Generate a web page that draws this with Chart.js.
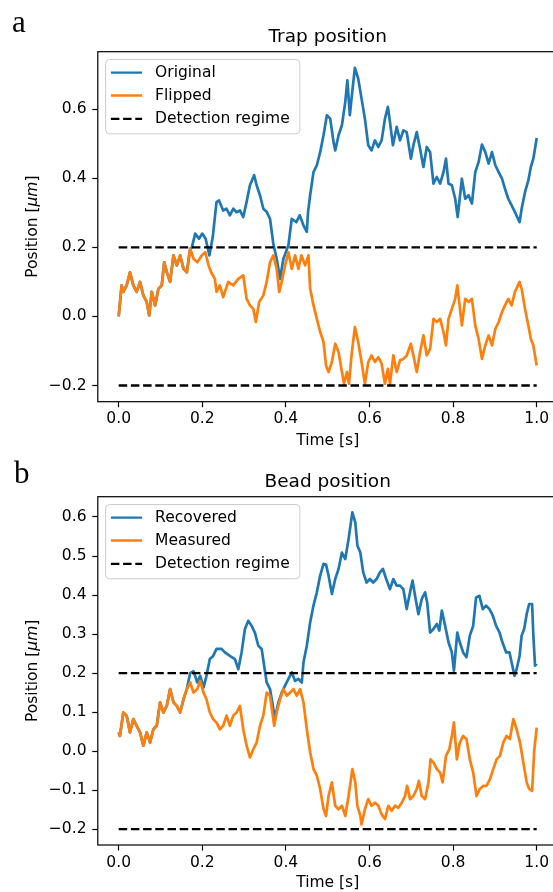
<!DOCTYPE html>
<html><head><meta charset="utf-8">
<script src="https://cdn.jsdelivr.net/npm/chart.js@4.4.1/dist/chart.umd.min.js"></script>
<style>
html,body{margin:0;padding:0;background:#fff;overflow:hidden;width:553px;height:892px;}
#wrap{position:relative;width:553px;height:892px;overflow:hidden;background:#fff;}
canvas{position:absolute;left:0;}
#ca{top:0px;}
#cb{top:450px;}
</style></head>
<body><div id="wrap"><canvas id="ca" width="600" height="460"></canvas><canvas id="cb" width="600" height="442"></canvas></div>
<script>
// ---------- DATA ----------
const xTickVals = [0, 0.2, 0.4, 0.6, 0.8, 1.0];
const xTickLabels = ['0.0', '0.2', '0.4', '0.6', '0.8', '1.0'];
const yTickValsA = [-0.2, 0, 0.2, 0.4, 0.6];
const yTickLabelsA = ['\u22120.2', '0.0', '0.2', '0.4', '0.6'];
const yTickValsB = [-0.2, -0.1, 0, 0.1, 0.2, 0.3, 0.4, 0.5, 0.6];
const yTickLabelsB = ['\u22120.2', '\u22120.1', '0.0', '0.1', '0.2', '0.3', '0.4', '0.5', '0.6'];
const namesA = ['Original', 'Flipped', 'Detection regime'];
const namesB = ['Recovered', 'Measured', 'Detection regime'];
const detectT = [0, 1];
const detectUpper = [0.2, 0.2];
const detectLower = [-0.2, -0.2];

// Panel a: Original (trap position)
const origT = [
 0,0.007,0.011,0.019,0.027,0.035,0.043,0.051,0.059,0.067,
 0.073,0.079,0.087,0.095,0.103,0.109,0.115,0.123,0.131,0.139,
 0.147,0.155,0.163,0.171,0.175,0.183,0.192,0.200,0.208,0.217,
 0.225,0.234,0.240,0.250,0.258,0.266,0.274,0.282,0.290,0.298,
 0.306,0.314,0.324,0.330,0.338,0.346,0.354,0.362,0.370,0.378,
 0.386,0.394,0.406,0.414,0.425,0.433,0.442,0.450,0.453,0.458,
 0.466,0.474,0.482,0.490,0.498,0.506,0.514,0.518,0.526,0.534,
 0.542,0.547,0.553,0.557,0.565,0.573,0.581,0.589,0.597,0.605,
 0.613,0.621,0.629,0.637,0.644,0.649,0.656,0.665,0.673,0.681,
 0.689,0.699,0.705,0.713,0.721,0.729,0.737,0.745,0.753,0.761,
 0.769,0.777,0.783,0.789,0.797,0.805,0.811,0.821,0.829,0.837,
 0.845,0.853,0.861,0.869,0.877,0.885,0.893,0.901,0.909,0.917,
 0.924,0.932,0.940,0.948,0.959,0.964,0.972,0.980,0.986,0.992,1.000];
const origV = [
 0,0.090,0.071,0.090,0.128,0.090,0.071,0.100,0.061,0.042,
 0.003,0.071,0.032,0.080,0.090,0.157,0.128,0.100,0.177,0.148,
 0.177,0.138,0.128,0.196,0.200,0.240,0.225,0.240,0.225,0.177,
 0.230,0.331,0.336,0.307,0.312,0.293,0.312,0.302,0.307,0.288,
 0.332,0.380,0.409,0.380,0.351,0.312,0.303,0.283,0.210,0.167,
 0.109,0.167,0.206,0.283,0.273,0.293,0.264,0.245,0.302,0.351,
 0.418,0.438,0.476,0.525,0.583,0.573,0.505,0.481,0.525,0.554,
 0.621,0.684,0.583,0.631,0.720,0.689,0.631,0.573,0.496,0.481,
 0.510,0.491,0.510,0.573,0.607,0.563,0.496,0.549,0.510,0.539,
 0.534,0.457,0.496,0.534,0.486,0.433,0.491,0.476,0.385,0.404,
 0.385,0.418,0.457,0.385,0.380,0.341,0.288,0.399,0.341,0.351,
 0.327,0.418,0.447,0.498,0.476,0.443,0.476,0.438,0.418,0.399,
 0.370,0.341,0.322,0.302,0.273,0.312,0.360,0.394,0.433,0.457,0.517];

// Panel a: Flipped
const flipT = [
 0,0.007,0.011,0.019,0.027,0.035,0.043,0.051,0.059,0.067,
 0.073,0.079,0.087,0.095,0.103,0.109,0.115,0.123,0.131,0.139,
 0.147,0.155,0.163,0.171,0.179,0.188,0.199,0.207,0.215,0.221,
 0.230,0.234,0.242,0.250,0.262,0.274,0.286,0.298,0.306,0.314,
 0.322,0.328,0.336,0.346,0.354,0.362,0.370,0.378,0.384,0.390,
 0.398,0.406,0.414,0.422,0.430,0.437,0.446,0.454,0.458,0.466,
 0.474,0.482,0.490,0.496,0.502,0.510,0.518,0.526,0.534,0.539,
 0.546,0.551,0.557,0.565,0.573,0.581,0.589,0.597,0.605,0.613,
 0.621,0.629,0.637,0.644,0.649,0.657,0.665,0.673,0.681,0.689,
 0.699,0.705,0.713,0.721,0.729,0.737,0.745,0.753,0.761,0.769,
 0.777,0.783,0.789,0.797,0.805,0.810,0.821,0.829,0.837,0.845,
 0.853,0.861,0.869,0.877,0.885,0.893,0.901,0.909,0.917,0.924,
 0.932,0.940,0.948,0.959,0.964,0.972,0.980,0.986,0.992,1.000];
const flipV = [
 0,0.090,0.071,0.090,0.128,0.090,0.071,0.100,0.061,0.042,
 0.003,0.071,0.032,0.080,0.090,0.157,0.128,0.100,0.177,0.148,
 0.177,0.138,0.128,0.196,0.167,0.157,0.177,0.186,0.148,0.128,
 0.109,0.071,0.090,0.056,0.100,0.090,0.109,0.119,0.051,0.032,
 0.022,-0.016,0.042,0.061,0.100,0.157,0.177,0.138,0.071,0.100,
 0.148,0.186,0.138,0.177,0.138,0.177,0.148,0.177,0.080,0.032,
 -0.007,-0.045,-0.074,-0.142,-0.161,-0.132,-0.079,-0.103,-0.161,-0.195,
 -0.161,-0.195,-0.113,-0.031,-0.074,-0.132,-0.195,-0.132,-0.113,-0.132,
 -0.118,-0.137,-0.195,-0.152,-0.195,-0.113,-0.161,-0.127,-0.123,-0.113,
 -0.079,-0.113,-0.161,-0.103,-0.055,-0.113,-0.094,-0.007,-0.016,-0.007,
 -0.045,-0.084,-0.007,0.022,0.051,0.090,-0.026,0.051,0.042,0.051,
 -0.026,-0.065,-0.123,-0.084,-0.055,-0.084,-0.036,-0.016,0.013,0.032,
 0.051,0.032,0.071,0.100,0.080,0.022,-0.026,-0.065,-0.084,-0.142];

// Panel b: Recovered (bead position)
const recT = [
 0,0.003,0.011,0.019,0.027,0.035,0.043,0.051,0.059,0.067,
 0.075,0.083,0.091,0.099,0.107,0.115,0.123,0.131,0.139,0.147,
 0.155,0.163,0.171,0.179,0.188,0.195,0.203,0.210,0.218,0.226,
 0.234,0.246,0.254,0.266,0.278,0.286,0.294,0.302,0.310,0.318,
 0.326,0.334,0.342,0.348,0.354,0.362,0.370,0.374,0.382,0.390,
 0.398,0.406,0.414,0.422,0.430,0.438,0.442,0.450,0.458,0.466,
 0.474,0.482,0.490,0.496,0.502,0.510,0.518,0.526,0.534,0.542,
 0.550,0.559,0.566,0.571,0.578,0.585,0.593,0.601,0.609,0.617,
 0.625,0.632,0.640,0.649,0.657,0.665,0.673,0.681,0.689,0.697,
 0.703,0.709,0.717,0.725,0.733,0.738,0.745,0.753,0.761,0.767,
 0.773,0.781,0.789,0.797,0.802,0.810,0.816,0.824,0.832,0.840,
 0.848,0.855,0.863,0.871,0.879,0.887,0.895,0.903,0.911,0.918,
 0.927,0.935,0.940,0.947,0.952,0.959,0.964,0.970,0.976,0.982,0.989,0.992,0.996,1.000];
const recV = [
 0.048,0.039,0.099,0.091,0.048,0.082,0.065,0.048,0.014,0.048,
 0.022,0.056,0.065,0.125,0.099,0.116,0.159,0.125,0.116,0.099,
 0.133,0.159,0.200,0.205,0.176,0.193,0.163,0.193,0.236,0.244,
 0.262,0.262,0.253,0.244,0.236,0.210,0.253,0.313,0.334,0.321,
 0.303,0.270,0.262,0.219,0.176,0.159,0.108,0.086,0.125,0.150,
 0.168,0.185,0.202,0.180,0.185,0.176,0.227,0.270,0.330,0.373,
 0.407,0.450,0.480,0.478,0.450,0.403,0.441,0.467,0.509,0.492,
 0.544,0.612,0.586,0.527,0.509,0.458,0.432,0.441,0.432,0.441,
 0.458,0.467,0.441,0.415,0.441,0.424,0.424,0.415,0.364,0.407,
 0.437,0.398,0.351,0.390,0.407,0.381,0.304,0.313,0.326,0.309,
 0.360,0.321,0.279,0.253,0.206,0.304,0.279,0.253,0.241,0.296,
 0.321,0.394,0.398,0.364,0.373,0.364,0.347,0.321,0.304,0.279,
 0.253,0.253,0.227,0.193,0.210,0.244,0.296,0.313,0.351,0.377,0.377,0.296,0.219,0.224];

// Panel b: Measured
const measT = [
 0,0.003,0.011,0.019,0.027,0.035,0.043,0.051,0.059,0.067,
 0.075,0.083,0.091,0.099,0.107,0.115,0.123,0.131,0.139,0.147,
 0.155,0.163,0.171,0.179,0.188,0.195,0.203,0.210,0.218,0.226,
 0.234,0.242,0.250,0.258,0.266,0.274,0.282,0.290,0.298,0.306,
 0.314,0.322,0.330,0.338,0.346,0.354,0.362,0.372,0.378,0.386,
 0.394,0.402,0.410,0.418,0.426,0.434,0.442,0.450,0.458,0.466,
 0.474,0.482,0.490,0.496,0.502,0.510,0.518,0.526,0.534,0.542,
 0.550,0.559,0.566,0.571,0.578,0.581,0.589,0.597,0.605,0.613,
 0.621,0.629,0.637,0.645,0.653,0.661,0.669,0.677,0.685,0.690,
 0.697,0.705,0.713,0.718,0.725,0.733,0.741,0.746,0.753,0.761,
 0.769,0.775,0.783,0.791,0.797,0.802,0.809,0.816,0.824,0.832,
 0.840,0.848,0.856,0.864,0.872,0.880,0.888,0.896,0.904,0.912,
 0.920,0.928,0.936,0.944,0.952,0.960,0.968,0.976,0.982,0.989,0.994,1.000];
const measV = [
 0.048,0.039,0.099,0.091,0.048,0.082,0.065,0.048,0.014,0.048,
 0.022,0.056,0.065,0.125,0.099,0.116,0.159,0.125,0.116,0.099,
 0.133,0.159,0.176,0.150,0.159,0.180,0.150,0.133,0.099,0.082,
 0.073,0.056,0.065,0.091,0.065,0.091,0.099,0.116,0.056,0.014,
 -0.016,0.005,0.022,0.065,0.091,0.150,0.142,0.065,0.099,0.133,
 0.159,0.142,0.150,0.159,0.142,0.159,0.125,0.056,-0.003,-0.046,
 -0.063,-0.097,-0.148,-0.166,-0.115,-0.080,-0.140,-0.149,-0.140,-0.166,
 -0.115,-0.046,-0.080,-0.140,-0.166,-0.188,-0.149,-0.123,-0.140,-0.132,
 -0.140,-0.162,-0.174,-0.140,-0.153,-0.140,-0.145,-0.132,-0.115,-0.089,
 -0.123,-0.115,-0.097,-0.076,-0.115,-0.123,-0.080,-0.021,-0.029,-0.046,
 -0.055,-0.080,-0.012,0.005,0.039,0.074,-0.021,0.022,0.039,0.031,
 -0.021,-0.055,-0.115,-0.097,-0.089,-0.089,-0.072,-0.046,-0.021,-0.012,
 0.022,0.039,0.031,0.082,0.056,0.022,-0.029,-0.080,-0.097,-0.102,0.000,0.060];

// ---------- RENDERING ----------
const FONT = '"DejaVu Sans", sans-serif';
Chart.defaults.font.family = FONT;
Chart.defaults.font.size = 15.5;
Chart.defaults.color = '#000';

const BLUE = '#1f77b4', ORANGE = '#ff7f0e';
const DASH = [8.5, 3.7];
const LW = 2.3;
const TRACE_LW = 2.7;

function roundRectPath(ctx, x, y, w, h, r) {
  ctx.beginPath();
  ctx.moveTo(x + r, y);
  ctx.lineTo(x + w - r, y); ctx.arcTo(x + w, y, x + w, y + r, r);
  ctx.lineTo(x + w, y + h - r); ctx.arcTo(x + w, y + h, x + w - r, y + h, r);
  ctx.lineTo(x + r, y + h); ctx.arcTo(x, y + h, x, y + h - r, r);
  ctx.lineTo(x, y + r); ctx.arcTo(x, y, x + r, y, r);
  ctx.closePath();
}

const overlay = {
  id: 'overlay',
  afterDraw(chart, args, o) {
    const ctx = chart.ctx, a = chart.chartArea;
    ctx.save();
    ctx.strokeStyle = '#000'; ctx.lineWidth = 1.2; ctx.setLineDash([]);
    ctx.strokeRect(a.left, a.top, a.right - a.left, a.bottom - a.top);
    ctx.fillStyle = '#000';
    ctx.font = '18.5px ' + FONT;
    ctx.textAlign = 'center'; ctx.textBaseline = 'alphabetic';
    ctx.fillText(o.title, (a.left + a.right) / 2, a.top - 9.8);
    ctx.font = '31px "Liberation Serif", serif';
    ctx.textAlign = 'left';
    ctx.fillText(o.letter, o.letterX, o.letterY);
    const parts = [['Position [', '15.5px ' + FONT], ['\u03bcm', 'italic 15.5px ' + FONT], [']', '15.5px ' + FONT]];
    let total = 0;
    parts.forEach(p => { ctx.font = p[1]; total += ctx.measureText(p[0]).width; });
    ctx.save();
    ctx.translate(33, (a.top + a.bottom) / 2);
    ctx.rotate(-Math.PI / 2);
    ctx.textBaseline = 'middle'; ctx.textAlign = 'left';
    let cx = -total / 2;
    parts.forEach(p => { ctx.font = p[1]; ctx.fillText(p[0], cx, 0); cx += ctx.measureText(p[0]).width; });
    ctx.restore();
    const lx = a.left + 7.8, ly = a.top + 7.8, lw = 194.3, lh = 74.3;
    roundRectPath(ctx, lx, ly, lw, lh, 4);
    ctx.fillStyle = 'rgba(255,255,255,0.8)'; ctx.fill();
    ctx.strokeStyle = '#cccccc'; ctx.lineWidth = 1; ctx.stroke();
    const rows = [13.2, 36, 59.3];
    const styles = [[BLUE, []], [ORANGE, []], ['#000', DASH]];
    ctx.font = '15.5px ' + FONT; ctx.textBaseline = 'middle'; ctx.textAlign = 'left';
    o.names.forEach((nm, i) => {
      const y = ly + rows[i];
      ctx.beginPath();
      ctx.strokeStyle = styles[i][0]; ctx.lineWidth = LW; ctx.setLineDash(styles[i][1]);
      ctx.moveTo(lx + 5.3, y); ctx.lineTo(lx + 36.5, y); ctx.stroke();
      ctx.setLineDash([]);
      ctx.fillStyle = '#000';
      ctx.fillText(nm, lx + 49.5, y + 0.5);
    });
    ctx.restore();
  }
};

function pts(ts, vs) { return ts.map((t, i) => ({ x: t, y: vs[i] })); }

function makeChart(id, c) {
  const base = { pointRadius: 0, tension: 0, fill: false, borderJoinStyle: 'round' };
  const datasets = [
    Object.assign({ label: c.names[0], data: pts(c.t1, c.v1), borderColor: BLUE, borderWidth: TRACE_LW, order: 3 }, base),
    Object.assign({ label: c.names[1], data: pts(c.t2, c.v2), borderColor: ORANGE, borderWidth: TRACE_LW, order: 2 }, base),
    Object.assign({ label: c.names[2], data: pts(detectT, detectUpper), borderColor: '#000', borderWidth: LW, borderDash: DASH, order: 1 }, base),
    Object.assign({ label: c.names[2] + ' ', data: pts(detectT, detectLower), borderColor: '#000', borderWidth: LW, borderDash: DASH, order: 1 }, base)
  ];
  const gridOpts = { drawOnChartArea: false, drawTicks: true, tickLength: 5.5, tickWidth: 1.2, color: '#000', tickColor: '#000' };
  return new Chart(document.getElementById(id), {
    type: 'line',
    data: { datasets },
    options: {
      responsive: false, animation: false, devicePixelRatio: 1,
      layout: { padding: { left: 0, top: c.padTop, right: 42.4, bottom: 0 } },
      plugins: { legend: { display: false }, tooltip: { enabled: false },
        overlay: { title: c.title, letter: c.letter, letterX: c.letterX, letterY: c.letterY, names: c.names } },
      scales: {
        x: {
          type: 'linear', min: -0.05, max: 1.05,
          afterBuildTicks: s => { s.ticks = xTickVals.map(v => ({ value: v })); },
          afterFit: s => { s.height = c.xH; },
          ticks: { autoSkip: false, maxRotation: 0, minRotation: 0, padding: 2.7, font: { size: 15.5 }, color: '#000',
                   callback: (v, i) => xTickLabels[i] },
          grid: gridOpts, border: { display: false },
          title: { display: true, text: 'Time [s]', color: '#000', font: { size: 15.5 }, padding: { top: 0, bottom: c.xTitlePad } }
        },
        y: {
          type: 'linear', min: c.yMin, max: c.yMax,
          afterBuildTicks: s => { s.ticks = c.yVals.map(v => ({ value: v })); },
          afterFit: s => { s.width = 97.8; },
          ticks: { autoSkip: false, padding: 5.8, font: { size: 15.5 }, color: '#000',
                   callback: (v, i) => c.yLabels[i] },
          grid: gridOpts, border: { display: false }
        }
      }
    },
    plugins: [overlay]
  });
}

makeChart('ca', { t1: origT, v1: origV, t2: flipT, v2: flipV, names: namesA,
  yMin: -0.247, yMax: 0.767, yVals: yTickValsA, yLabels: yTickLabelsA,
  padTop: 51.7, xH: 58.3, xTitlePad: 9.5, title: 'Trap position', letter: 'a', letterX: 12, letterY: 31.7 });
makeChart('cb', { t1: recT, v1: recV, t2: measT, v2: measV, names: namesB,
  yMin: -0.2405, yMax: 0.652, yVals: yTickValsB, yLabels: yTickLabelsB,
  padTop: 46.7, xH: 47, xTitlePad: 0, title: 'Bead position', letter: 'b', letterX: 14, letterY: 33.3 });
</script>
</body></html>
